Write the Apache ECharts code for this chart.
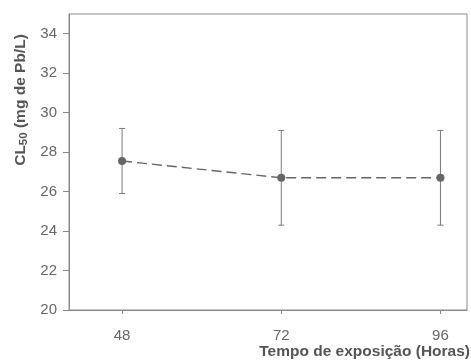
<!DOCTYPE html>
<html><head><meta charset="utf-8">
<script src="https://cdn.jsdelivr.net/npm/echarts@6/dist/echarts.min.js"></script>
<style>html,body{margin:0;padding:0;background:#fff}#c{width:471px;height:363px}</style>
</head><body><div id="c"></div>
<script>
const hours = [48, 72, 96];
const cl50 = [27.55, 26.7, 26.7];
const lower = [25.9, 24.3, 24.3];
const upper = [29.2, 29.1, 29.1];
const yTicks = [20, 22, 24, 26, 28, 30, 32, 34];

const chart = echarts.init(document.getElementById('c'));
const FONT = '"Liberation Sans", Arial, sans-serif';
chart.setOption({
  animation: false,
  grid: { left: 69, right: 4, top: 14, bottom: 53, show: true, borderColor: '#8a8a8a', borderWidth: 1 },
  xAxis: {
    type: 'value', min: 40, max: 100,
    axisLine: { show: true, lineStyle: { color: '#8a8a8a' } },
    axisTick: { show: true, length: 4, customValues: hours, lineStyle: { color: '#8a8a8a' } },
    axisLabel: { customValues: hours, margin: 18, color: '#666', fontSize: 15, fontFamily: FONT },
    splitLine: { show: false }
  },
  yAxis: {
    type: 'value', min: 20, max: 35,
    axisLine: { show: true, lineStyle: { color: '#8a8a8a' } },
    axisTick: { show: true, length: 6, customValues: yTicks, lineStyle: { color: '#8a8a8a' } },
    axisLabel: { customValues: yTicks, margin: 12, color: '#666', fontSize: 15, fontFamily: FONT },
    splitLine: { show: false }
  },
  graphic: [
    { type: 'text', x: 21, y: 100, rotation: Math.PI / 2,
      style: { text: '{a|CL}{s|50}{a| (mg de Pb/L)}', align: 'center', verticalAlign: 'middle',
        rich: { a: { fontSize: 15.5, fontWeight: 'bold', fontFamily: FONT, fill: '#555' },
                s: { fontSize: 11.5, fontWeight: 'bold', fontFamily: FONT, fill: '#555', verticalAlign: 'bottom', padding: [6, 0, 0, 0] } } } },
    { type: 'text', right: 1, top: 344,
      style: { text: 'Tempo de exposição (Horas)', fontSize: 15.5, fontWeight: 'bold', fontFamily: FONT, fill: '#555' } }
  ],
  series: [
    { type: 'custom',
      data: hours.map((h, i) => [h, lower[i], upper[i]]),
      renderItem: function (params, api) {
        const lo = api.coord([api.value(0), api.value(1)]);
        const hi = api.coord([api.value(0), api.value(2)]);
        const w = 3;
        const st = { stroke: '#7a7a7a', lineWidth: 1 };
        return { type: 'group', children: [
          { type: 'line', shape: { x1: lo[0], y1: lo[1], x2: hi[0], y2: hi[1] }, style: st },
          { type: 'line', shape: { x1: lo[0] - w, y1: lo[1], x2: lo[0] + w, y2: lo[1] }, style: st },
          { type: 'line', shape: { x1: hi[0] - w, y1: hi[1], x2: hi[0] + w, y2: hi[1] }, style: st }
        ] };
      },
      z: 1
    },
    { type: 'line',
      data: hours.map((h, i) => [h, cl50[i]]),
      symbol: 'circle', symbolSize: 8,
      itemStyle: { color: '#666' },
      lineStyle: { color: '#666', width: 1.4, type: [10, 5] },
      z: 2
    }
  ]
});
</script></body></html>
